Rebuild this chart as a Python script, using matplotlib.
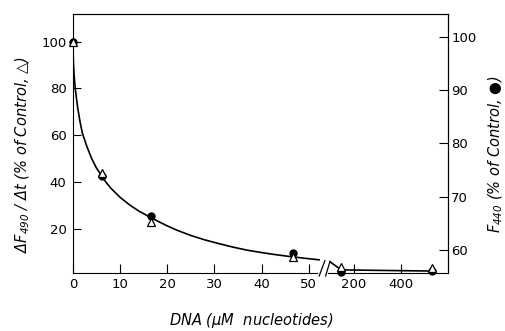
import numpy as np
import matplotlib.pyplot as plt
from matplotlib.transforms import blended_transform_factory

dna = [0, 6.1, 16.6, 46.7, 146, 533]          # uM nucleotides
rate_490 = [100, 44, 23, 8.2, 3.7, 3.2]       # dF490/dt, % of control (triangles)
f_440 = [99.0, 73.8, 66.4, 59.4, 55.9, 56.0]  # F440, % of control (filled circles)

# drawn curve, left-axis units
curve_x = [0, 0.1, 0.25, 0.5, 1, 1.5, 2, 3, 4, 5, 6, 7, 8, 10, 12, 14, 16,
           18, 20, 22, 25, 28, 31, 34, 37, 40, 43, 46, 49, 52.2]
curve_y = [100, 92, 86, 80, 72, 66, 61, 55, 50, 46, 43, 40, 37.5, 33.5, 30.3,
           27.6, 25.4, 23.3, 21.3, 19.5, 17.2, 15.3, 13.7, 12.2, 10.9, 9.9,
           9.0, 8.2, 7.5, 6.8]
tail_x = [98, 146, 533]
tail_y = [6.0, 2.5, 2.0]

xticks = [0, 10, 20, 30, 40, 50, 200, 400]
left_ticks = [20, 40, 60, 80, 100]
right_ticks = [60, 70, 80, 90, 100]

# broken x axis: linear up to the break, then compressed 20x
B = 52.2
C = 20.0


def fwd(x):
    x = np.asarray(x, dtype=float)
    return np.where(x <= B, x, B + (x - B) / C)


def inv(p):
    p = np.asarray(p, dtype=float)
    return np.where(p <= B, p, B + (p - B) * C)


plt.rcParams["font.family"] = "DejaVu Sans"
plt.rcParams["mathtext.fontset"] = "custom"
plt.rcParams["mathtext.it"] = "DejaVu Sans:italic"
plt.rcParams["mathtext.rm"] = "DejaVu Sans:italic"

fig = plt.figure(figsize=(5.06, 3.31), dpi=100)
ax = fig.add_axes([0.144, 0.174, 0.741, 0.784])
ax2 = ax.twinx()
ax.set_zorder(ax2.get_zorder() + 1)
ax.patch.set_visible(False)

ax.set_xscale("function", functions=(fwd, inv))
ax.set_xlim(0, 598)
ax.set_ylim(1, 111.8)
ax2.set_ylim(55.6, 104.3)

# curve and points
ax.plot(curve_x, curve_y, color="black", lw=1.2, zorder=2)
ax.plot(tail_x, tail_y, color="black", lw=1.2, zorder=2)
ax2.plot(dna, f_440, "o", color="black", ms=5, clip_on=False, zorder=3)
ax.plot(dna, rate_490, "^", mfc="white", mec="black", mew=0.9, ms=5.5,
        clip_on=False, zorder=4)

# spines
for a in (ax, ax2):
    for s in a.spines.values():
        s.set_linewidth(0.8)
    a.spines["bottom"].set_visible(False)
ax2.spines["left"].set_visible(False)

trans = blended_transform_factory(ax.transData, ax.transAxes)
ax.plot([0, 51.7], [0, 0], color="black", lw=0.8, transform=trans, clip_on=False)
ax.plot([89.6, 598], [0, 0], color="black", lw=0.8, transform=trans, clip_on=False)
# break marks
ax.plot([52.6, 76.8], [-0.01, 0.049], color="black", lw=0.9, transform=trans, clip_on=False)
ax.plot([79.8, 98], [-0.01, 0.045], color="black", lw=0.9, transform=trans, clip_on=False)

# ticks
ax.set_xticks(xticks)
ax.set_xticklabels([str(t) for t in xticks])
ax.set_yticks(left_ticks)
ax2.set_yticks(right_ticks)
ax.tick_params(axis="x", direction="in", length=6.5, width=0.8, pad=3, labelsize=9.5)
ax.tick_params(axis="y", direction="in", length=5.5, width=0.8, pad=4.5, labelsize=9.5)
ax2.tick_params(axis="y", direction="in", length=6.5, width=0.8, pad=2.5, labelsize=9.5)
ax.minorticks_off()

# labels
fig.text(251 / 506, 1 - 321 / 331, r"DNA ($\mu$M  nucleotides)", ha="center", va="center",
         fontsize=10.5, style="italic")
fig.text(23 / 506, 1 - 155 / 331,
         r"$\Delta F_{490}$ / $\Delta t$ (% of Control, △)",
         rotation=90, ha="center", va="center", fontsize=10.5, style="italic")
fig.text(496 / 506, 1 - 154 / 331,
         r"$F_{440}$ (% of Control, ●)",
         rotation=90, ha="center", va="center", fontsize=10.5, style="italic")

fig.savefig("out.png", dpi=100)
